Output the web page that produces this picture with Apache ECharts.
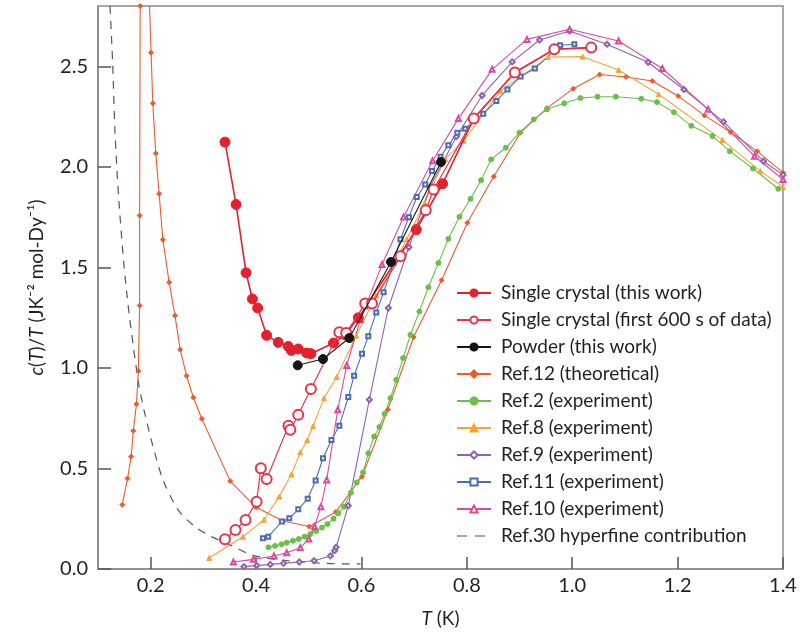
<!DOCTYPE html>
<html><head><meta charset="utf-8">
<script src="https://cdn.jsdelivr.net/npm/echarts@6/dist/echarts.min.js"></script>
<style>html,body{margin:0;padding:0;background:#fff}#c{width:800px;height:634px}</style>
</head><body><div id="c"></div>
<script>
// ---- data (T in K, c/T in J K^-2 mol-Dy^-1) ----
const singleCrystal = [[0.341,2.123],[0.362,1.813],[0.381,1.473],[0.393,1.343],[0.403,1.298],[0.420,1.162],[0.442,1.127],[0.461,1.107],[0.467,1.087],[0.480,1.094],[0.496,1.074],[0.504,1.071],[0.547,1.124],[0.569,1.165],[0.594,1.249],[0.704,1.688],[0.754,1.916],[0.813,2.24],[0.891,2.469],[0.966,2.585],[1.036,2.593]];
const singleCrystalFirst = [[0.341,0.148],[0.361,0.194],[0.380,0.244],[0.401,0.335],[0.409,0.501],[0.420,0.447],[0.4615,0.712],[0.465,0.692],[0.480,0.767],[0.504,0.895],[0.558,1.177],[0.571,1.174],[0.607,1.32],[0.620,1.32],[0.674,1.555],[0.722,1.784],[0.737,1.887],[0.813,2.24],[0.891,2.469],[0.966,2.585],[1.036,2.593]];
const powder = [[0.479,1.013],[0.527,1.044],[0.577,1.149],[0.656,1.527],[0.751,2.024]];
const ref12 = [[0.146,0.319],[0.156,0.450],[0.163,0.559],[0.167,0.687],[0.173,0.820],[0.1765,0.985],[0.179,1.310],[0.179,1.758],[0.180,2.80],[0.188,3.6],[0.2007,2.568],[0.204,2.316],[0.2096,2.067],[0.216,1.866],[0.223,1.638],[0.235,1.426],[0.246,1.260],[0.256,1.091],[0.268,0.961],[0.281,0.853],[0.297,0.747],[0.351,0.437],[0.400,0.307],[0.451,0.239],[0.501,0.211],[0.5515,0.284],[0.601,0.460],[0.650,0.792],[0.699,1.154],[0.752,1.436],[0.801,1.722],[0.851,1.952],[0.902,2.170],[0.952,2.292],[1.002,2.389],[1.052,2.459],[1.102,2.447],[1.152,2.427],[1.201,2.352],[1.251,2.256],[1.300,2.173],[1.351,2.078],[1.400,1.971]];
const ref2 = [[0.4235,0.108],[0.436,0.115],[0.448,0.123],[0.458,0.131],[0.470,0.141],[0.481,0.149],[0.492,0.161],[0.503,0.174],[0.514,0.189],[0.525,0.206],[0.5355,0.224],[0.547,0.250],[0.556,0.277],[0.567,0.310],[0.580,0.380],[0.591,0.430],[0.603,0.480],[0.613,0.576],[0.624,0.659],[0.634,0.706],[0.644,0.772],[0.655,0.850],[0.666,0.941],[0.679,1.049],[0.693,1.165],[0.710,1.281],[0.727,1.401],[0.746,1.522],[0.765,1.642],[0.786,1.752],[0.807,1.841],[0.827,1.934],[0.846,2.037],[0.874,2.095],[0.900,2.170],[0.927,2.236],[0.952,2.286],[0.985,2.316],[1.0155,2.342],[1.048,2.349],[1.083,2.349],[1.131,2.339],[1.161,2.322],[1.193,2.272],[1.226,2.204],[1.266,2.153],[1.299,2.078],[1.343,1.992],[1.391,1.891]];
const ref8 = [[0.311,0.055],[0.375,0.16],[0.415,0.245],[0.444,0.36],[0.467,0.47],[0.484,0.58],[0.497,0.64],[0.508,0.71],[0.529,0.85],[0.553,0.955],[0.590,1.16],[0.628,1.36],[0.686,1.64],[0.720,1.82],[0.759,2.04],[0.794,2.13],[0.864,2.377],[0.954,2.546],[1.020,2.548],[1.088,2.482],[1.164,2.361],[1.285,2.133],[1.357,1.979],[1.400,1.90]];
const ref9 = [[0.377,0.012],[0.401,0.017],[0.427,0.023],[0.452,0.028],[0.482,0.035],[0.510,0.041],[0.541,0.065],[0.549,0.091],[0.552,0.108],[0.575,0.315],[0.615,0.842],[0.651,1.298],[0.690,1.60],[0.730,1.90],[0.780,2.15],[0.829,2.355],[0.886,2.522],[0.938,2.631],[0.995,2.676],[1.066,2.610],[1.144,2.520],[1.212,2.385],[1.287,2.224],[1.363,2.028],[1.400,1.96]];
const ref11 = [[0.413,0.153],[0.423,0.161],[0.449,0.236],[0.463,0.252],[0.480,0.297],[0.498,0.349],[0.513,0.44],[0.527,0.551],[0.543,0.642],[0.558,0.712],[0.575,0.855],[0.586,0.961],[0.601,1.071],[0.613,1.157],[0.628,1.276],[0.642,1.376],[0.661,1.522],[0.674,1.64],[0.690,1.75],[0.705,1.85],[0.721,1.912],[0.734,1.979],[0.750,2.05],[0.765,2.107],[0.782,2.17],[0.797,2.19],[0.831,2.264],[0.856,2.327],[0.877,2.385],[0.902,2.449],[0.929,2.489],[0.977,2.605],[1.004,2.61]];
const ref10 = [[0.357,0.035],[0.395,0.048],[0.434,0.065],[0.458,0.081],[0.484,0.106],[0.500,0.149],[0.511,0.211],[0.523,0.31],[0.534,0.443],[0.555,0.792],[0.572,1.012],[0.598,1.24],[0.639,1.514],[0.680,1.751],[0.735,2.03],[0.784,2.24],[0.848,2.485],[0.914,2.634],[0.995,2.684],[1.088,2.626],[1.171,2.489],[1.258,2.286],[1.346,2.053],[1.400,1.937]];
const ref30 = [[0.1228,2.80],[0.1279,2.51],[0.1323,2.17],[0.1405,1.80],[0.1545,1.373],[0.176,0.941],[0.1887,0.775],[0.2045,0.609],[0.2235,0.443],[0.252,0.294],[0.2837,0.211],[0.3152,0.161],[0.3507,0.12],[0.3919,0.07],[0.4457,0.045],[0.5089,0.031],[0.5724,0.025],[0.598,0.025]];
const xTicks = [0.2,0.4,0.6,0.8,1.0,1.2,1.4];
const yTicks = [0.0,0.5,1.0,1.5,2.0,2.5];
const names = ['Single crystal (this work)','Single crystal (first 600 s of data)','Powder (this work)','Ref.12 (theoretical)','Ref.2 (experiment)','Ref.8 (experiment)','Ref.9 (experiment)','Ref.11 (experiment)','Ref.10 (experiment)','Ref.30 hyperfine contribution'];

const FONT = 'Lato';
const TXT = '#231f20';
function ln(name, data, color, symbol, size, z, extra) {
  return Object.assign({
    name, type:'line', data, symbol, symbolSize:size, z,
    lineStyle:{color, width:1.1},
    itemStyle:{color, borderColor:color, borderWidth:1},
    emphasis:{disabled:true}, animation:false, clip:true
  }, extra||{});
}
const series = [
  ln(names[9], ref30, '#555555', 'none', 0, 1, {smooth:0.3, lineStyle:{color:'#555555', width:1.2, type:[8,7]}}),
  ln(names[3], ref12, '#ec5a2e', 'diamond', 5, 2),
  ln(names[4], ref2, '#6abf47', 'circle', 5, 2),
  ln(names[5], ref8, '#f4a53a', 'triangle', 5, 2),
  ln(names[6], ref9, '#8c62ae', 'emptyDiamond', 5, 2),
  ln(names[7], ref11, '#4b6db5', 'emptyRect', 4, 2),
  ln(names[8], ref10, '#d64ba0', 'emptyTriangle', 5, 2),
  ln(names[0], singleCrystal, '#e2202e', 'circle', 10, 4, {lineStyle:{color:'#e2202e', width:1.6}}),
  ln(names[1], singleCrystalFirst, '#e8334a', 'emptyCircle', 10, 5, {lineStyle:{color:'#e8334a', width:1.2}, itemStyle:{color:'#e8334a', borderWidth:1.6}}),
  ln(names[2], powder, '#151515', 'circle', 9, 6)
];
// dashed-line legend icon (tiny specks fix the bounding box to 34x9)
const dashIcon = 'path://M0,0h0.01v0.01h-0.01zM33.99,8.99h0.01v0.01h-0.01zM0,3.8h10v1.5h-10zM18,3.8h10v1.5h-10z';
const legendData = names.map(n => n === names[9]
  ? {name:n, icon:dashIcon, itemStyle:{color:'#8a8a8a', borderWidth:0, borderColor:'rgba(0,0,0,0)'}}
  : n);

const chart = echarts.init(document.getElementById('c'), null, {renderer:'canvas'});
chart.setOption({
  animation:false,
  grid:{left:98, right:17, top:6, bottom:65, show:true, borderColor:'#8a8a8a', borderWidth:1.5, containLabel:false},
  xAxis:{type:'value', min:0.1, max:1.4,
    axisLine:{lineStyle:{color:'#8a8a8a', width:1.5}},
    axisTick:{inside:true, length:12, customValues:xTicks, lineStyle:{color:'#555', width:1.5}},
    axisLabel:{customValues:xTicks, formatter:v=>v.toFixed(1), color:TXT, fontFamily:FONT, fontSize:20, margin:7},
    splitLine:{show:false},
    name:'{i|T} (K)', nameLocation:'middle', nameGap:40,
    nameTextStyle:{color:TXT, fontFamily:FONT, fontSize:19, rich:{i:{fontStyle:'italic', fontFamily:FONT, fontSize:19, color:TXT}}}
  },
  yAxis:{type:'value', min:0, max:2.8,
    axisLine:{lineStyle:{color:'#8a8a8a', width:1.5}},
    axisTick:{inside:true, length:13, customValues:yTicks, lineStyle:{color:'#555', width:1.5}},
    axisLabel:{customValues:yTicks, formatter:v=>v.toFixed(1), color:TXT, fontFamily:FONT, fontSize:20, margin:10},
    splitLine:{show:false},
    name:'{i|c}({i|T})/{i|T} (JK⁻² mol-Dy⁻¹)', nameLocation:'middle', nameGap:52,
    nameTextStyle:{color:TXT, fontFamily:FONT, fontSize:19, rich:{i:{fontStyle:'italic', fontFamily:FONT, fontSize:19, color:TXT}}}
  },
  legend:{orient:'vertical', left:456, top:283, padding:0, itemWidth:34, itemHeight:9, itemGap:7,
    data:legendData, selectedMode:false,
    textStyle:{color:TXT, fontFamily:FONT, fontSize:19, lineHeight:20, padding:[0,0,0,5]}},
  series
});
</script></body></html>
